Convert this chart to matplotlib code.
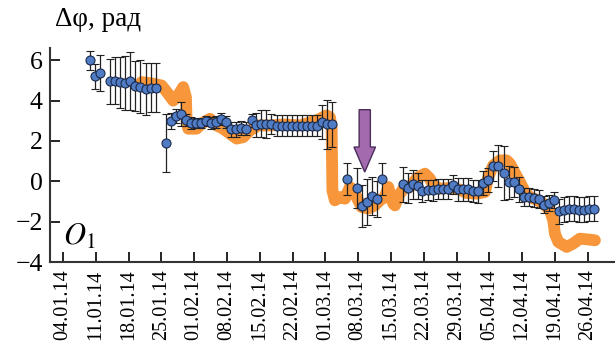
import matplotlib
matplotlib.use("Agg")
import matplotlib.pyplot as plt

# дни от 01.01.2014
point_day = [8.75, 9.82, 10.88, 13.02, 14.08, 15.15, 16.22, 17.29, 18.35, 19.42, 20.64, 21.77, 22.90,
             24.90, 25.97, 27.04, 28.10, 29.17, 30.24, 31.31, 32.37, 33.44, 34.51, 35.64, 36.70,
             37.77, 38.84, 39.91, 40.97, 42.04, 43.26, 44.28, 45.24, 46.31, 47.37, 48.59, 49.66,
             50.73, 51.79, 52.86, 53.93, 54.99, 56.06, 57.13, 58.32, 59.39, 60.46,
             63.59, 65.79, 66.86, 67.93, 68.99, 70.06, 71.13,
             75.48, 76.55, 77.61, 78.68, 79.66, 80.81, 81.88, 82.95, 84.02, 85.08,
             86.15, 87.22, 88.28, 89.35, 90.55, 91.61, 92.68, 93.75, 94.82, 95.88,
             97.03, 98.10, 99.17, 100.23, 101.30, 102.37, 103.43, 104.50, 105.57, 106.64,
             107.77, 108.83, 109.90, 110.97, 112.04, 113.17, 114.23, 115.30, 116.37]
point_phase = [5.99, 5.20, 5.38, 4.95, 4.99, 4.90, 4.89, 4.97, 4.72, 4.70, 4.57, 4.64, 4.64,
               1.91, 2.97, 3.23, 3.35, 3.02, 2.91, 2.89, 2.89, 2.97, 2.91, 2.94, 3.07,
               2.94, 2.57, 2.57, 2.64, 2.61, 3.03, 2.80, 2.86, 2.86, 2.86, 2.76, 2.76,
               2.76, 2.76, 2.76, 2.76, 2.76, 2.76, 2.76, 2.94, 2.82, 2.82,
               0.10, -0.32, -1.22, -1.02, -0.73, -0.86, 0.10,
               -0.15, -0.33, -0.15, -0.23, -0.48, -0.43, -0.45, -0.36, -0.38, -0.38,
               -0.16, -0.40, -0.40, -0.40, -0.48, -0.50, -0.08, 0.05, 0.75, 0.75,
               0.41, -0.05, -0.05, -0.40, -0.76, -0.78, -0.83, -0.86, -1.15, -1.07,
               -0.94, -1.49, -1.40, -1.35, -1.35, -1.40, -1.40, -1.35, -1.35]
point_err = [0.48, 0.6, 0.9, 1.1, 1.15, 1.26, 1.34, 1.44, 1.24, 1.3, 1.3, 1.2, 1.2,
             1.45, 0.4, 0.35, 0.6, 0.3, 0.3, 0.25, 0.25, 0.25, 0.3, 0.3, 0.3,
             0.3, 0.37, 0.37, 0.33, 0.33, 0.33, 0.6, 0.68, 0.7, 0.5, 0.53, 0.53,
             0.53, 0.53, 0.53, 0.53, 0.53, 0.53, 0.53, 0.83, 1.2, 1.1,
             0.8, 1.0, 1.05, 1.15, 0.95, 0.9, 0.8,
             0.85, 0.75, 0.7, 0.65, 0.55, 0.5, 0.5, 0.5, 0.5, 0.5,
             0.45, 0.55, 0.55, 0.55, 0.55, 0.55, 0.6, 0.6, 0.75, 1.05,
             1.35, 0.8, 0.75, 0.6, 0.45, 0.45, 0.45, 0.45, 0.4, 0.4,
             0.4, 0.6, 0.6, 0.6, 0.6, 0.6, 0.6, 0.6, 0.6]

# оранжевая кривая
trend_day = [19.78, 22.26, 24.05, 25.46, 26.53, 27.59, 28.66, 29.24, 29.39, 29.73, 31.52, 32.59,
             34.36, 35.79, 37.20, 38.63, 40.06, 41.46, 42.89, 44.66, 47.16, 50.36, 53.56, 57.13,
             59.26, 59.97, 60.33, 60.50, 61.03, 62.10, 63.17, 64.23, 64.94, 65.66, 66.73, 68.14,
             69.57, 70.64, 71.70, 72.41, 72.77, 73.47, 73.84, 74.90, 75.97, 77.04, 78.53, 80.24,
             81.31, 82.02, 83.44, 85.57, 87.71, 89.14, 91.27, 93.04, 93.75, 94.82, 96.24, 97.67,
             98.38, 99.45, 100.51, 101.58, 102.65, 104.08, 105.48, 106.91, 107.62, 107.98, 108.69,
             110.48, 111.89, 113.32, 115.45, 116.52]
trend_phase = [4.92, 4.84, 4.75, 4.34, 4.00, 4.26, 4.67, 4.17, 3.02, 2.61, 2.61, 2.86,
               3.10, 2.77, 2.61, 2.36, 2.12, 2.19, 2.52, 2.77, 2.77, 2.82, 2.77, 3.02,
               3.27, 3.17, 2.69, -0.45, -0.94, -0.78, -0.86, -0.28, -0.45, -0.78, -1.27, -1.35,
               -1.19, -0.94, -0.78, -0.28, -0.61, -1.10, -1.19, -0.61, -0.28, -0.28, 0.17, 0.38,
               0.13, -0.20, -0.36, -0.33, -0.41, -0.58, -0.61, -0.53, 0.21, 0.79, 1.04, 1.04,
               0.88, 0.41, -0.03, -0.53, -0.78, -0.91, -1.10, -1.44, -1.93, -2.59, -3.00,
               -3.25, -3.08, -2.84, -2.89, -2.92]

tick_day = [3, 10, 17, 24, 31, 38, 45, 52, 59, 66, 73, 80, 87, 94, 101, 108, 115]
tick_labels = ["04.01.14", "11.01.14", "18.01.14", "25.01.14", "01.02.14", "08.02.14",
               "15.02.14", "22.02.14", "01.03.14", "08.03.14", "15.03.14", "22.03.14",
               "29.03.14", "05.04.14", "12.04.14", "19.04.14", "26.04.14"]

plt.rcParams["font.family"] = ["Liberation Serif", "DejaVu Serif"]
plt.rcParams["mathtext.fontset"] = "stix"

fig = plt.figure(figsize=(6.15, 3.44), dpi=100)
ax = fig.add_axes([0.081, 0.237, 0.919, 0.623])

ax.plot(trend_day, trend_phase, color="#F7963A", lw=8.5, solid_capstyle="round",
        solid_joinstyle="round", zorder=1)
ax.errorbar(point_day, point_phase, yerr=point_err, fmt="o", ms=6.5,
            mfc="#4F7CC5", mec="#1B2A4A", mew=0.8, ecolor="#222222",
            elinewidth=0.9, capsize=3, capthick=0.9, zorder=3)

# стрелка
ax.arrow(67.4, 3.55, 0, -3.09, width=2.4, head_width=4.6, head_length=1.24,
         length_includes_head=True, fc="#A46AAE", ec="#4A2D5A", lw=1.0, zorder=4)

ax.text(3.0, -2.75, "$O_1$", fontsize=22, va="center", ha="left")

ax.set_xlim(0.2, 120.8)
ax.set_ylim(-4.02, 6.6)
ax.set_yticks([-4, -2, 0, 2, 4, 6])
ax.set_xticks(tick_day)
ax.set_xticklabels(tick_labels, rotation=90, fontsize=14.5)
ax.tick_params(axis="y", direction="in", length=7, width=1.2, labelsize=18.5, pad=5)
ax.tick_params(axis="x", direction="in", length=7, width=1.2, pad=5)

for s in ["top", "right"]:
    ax.spines[s].set_visible(False)
for s in ["left", "bottom"]:
    ax.spines[s].set_linewidth(1.5)
    ax.spines[s].set_color("#333333")

fig.text(0.089, 0.942, "Δφ, рад", fontsize=19.5, va="center", ha="left")

fig.savefig("out.png", dpi=100)
